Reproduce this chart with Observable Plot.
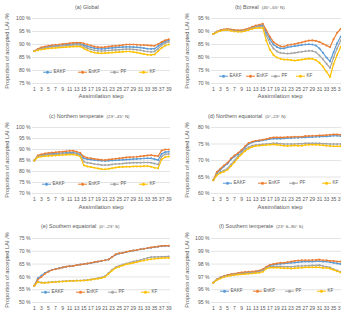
<!DOCTYPE html>
<html><head><meta charset="utf-8">
<script src="https://cdn.jsdelivr.net/npm/d3@7"></script>
<script src="https://cdn.jsdelivr.net/npm/@observablehq/plot@0.6"></script>
<style>
html,body{margin:0;padding:0;background:#fff;overflow:hidden}
#fig{position:relative;width:341px;height:310px;overflow:hidden;font-family:"Liberation Sans",Arial,sans-serif;color:#595959;background:#fff}
.abs{position:absolute;white-space:nowrap;line-height:1}
.title{font-size:5.4px;transform:translateY(-50%)}
.title .sub{font-size:4.4px;margin-left:3px}
.xlab{font-size:6px;transform:translate(-50%,-50%)}
.ylab{font-size:5.7px;transform:translate(-50%,-50%) rotate(-90deg)}
.li{font-size:4.6px;display:flex;align-items:center;transform:translateY(-50%)}
.sw{position:relative;display:inline-block;width:9px;height:1.1px;margin-right:1.5px}
.sw i{position:absolute;left:3px;top:-1.2px;width:3.4px;height:3.4px;border-radius:50%}
svg{position:absolute}
</style></head>
<body><div id="fig"></div>
<script>
const steps = [1,2,3,4,5,6,7,8,9,10,11,12,13,14,15,16,17,18,19,20,21,22,23,24,25,26,27,28,29,30,31,32,33,34,35,36,37,38,39];
const stepTicks = [1,3,5,7,9,11,13,15,17,19,21,23,25,27,29,31,33,35,37,39];
const seriesNames = ["EAKF","EnKF","PF","KF"];
const seriesColors = ["#5B9BD5","#ED7D31","#A5A5A5","#FFC000"];

// (a) Global
const aEAKF = [87.5,88.1,88.6,88.9,89.2,89.4,89.6,89.7,89.9,90.0,90.1,90.2,90.3,90.2,89.8,89.3,88.9,88.6,88.4,88.3,88.4,88.6,88.7,88.8,88.9,89.0,89.1,89.1,89.0,88.9,88.8,88.6,88.4,88.3,88.4,89.3,90.4,91.2,91.6];
const aEnKF = [87.5,88.3,88.9,89.2,89.5,89.7,89.9,90.0,90.2,90.3,90.5,90.6,90.7,90.7,90.4,90.0,89.6,89.2,89.0,88.9,89.0,89.2,89.4,89.5,89.6,89.8,90.0,90.0,90.0,89.9,89.8,89.8,89.7,89.6,89.5,90.2,91.0,91.6,92.0];
const aPF   = [87.5,88.0,88.4,88.7,88.9,89.1,89.3,89.4,89.5,89.6,89.7,89.8,89.9,89.8,89.2,88.6,88.1,87.8,87.6,87.5,87.6,87.7,87.8,87.9,88.0,88.1,88.2,88.2,88.1,88.0,87.8,87.5,87.3,87.2,87.3,88.4,89.7,90.6,91.0];
const aKF   = [87.4,87.8,88.1,88.3,88.5,88.6,88.7,88.8,88.9,89.0,89.1,89.2,89.3,89.2,88.5,87.8,87.2,86.9,86.7,86.6,86.7,86.8,86.9,87.0,87.1,87.2,87.3,87.3,87.1,86.9,86.6,86.3,86.1,86.0,86.2,87.4,88.7,89.6,90.0];
const aTicks = [75,80,85,90,95,100];

// (b) Boreal
const bEAKF = [89,89.9,90.4,90.7,90.8,90.6,90.4,90.3,90.3,90.6,91,91.5,92,92.2,92.4,89.5,87,85,84,83.5,83.5,83.9,84.2,84.4,84.6,84.8,85.0,85.1,85.0,84.6,83.5,81.8,80.0,78.5,82,85.5,88,89.5,90];
const bEnKF = [89,90,90.5,90.8,91,90.8,90.6,90.5,90.5,90.8,91.2,91.8,92.3,92.6,93,90.5,88,86,85,84.3,84.2,84.7,85,85.2,85.5,85.8,86.2,86.5,86.6,86.4,86,85.3,84.6,84.0,87,89.5,91,92,92.5];
const bPF   = [89,89.8,90.3,90.6,90.7,90.5,90.2,90.1,90.1,90.4,90.8,91.3,91.7,91.9,92,88.5,85.5,83.5,82.3,81.8,81.6,81.5,81.6,81.8,82,82.2,82.4,82.6,82.5,82,80.8,79.3,77.6,76,80,83.5,86.5,88,89];
const bKF   = [89,89.7,90.2,90.5,90.6,90.3,90,89.9,89.9,90.2,90.6,91,91.3,91.4,91.3,86.5,83,81,80,79.5,79.2,79.2,79.0,78.8,79,79.2,79.4,79.6,79.5,79,78,76.5,74.5,72.5,77.5,81,84,86,87];
const bTicks = [70,75,80,85,90,95];

// (c) Northern temperate
const cEAKF = [85,87.0,87.5,87.8,88.0,88.1,88.2,88.3,88.4,88.5,88.6,88.6,88.3,87.8,86.0,85.6,85.4,85.2,85.0,84.9,84.8,84.9,85.0,85.1,85.2,85.3,85.4,85.5,85.6,85.7,85.8,85.9,86.0,86.0,85.6,85.2,88.0,88.8,89.0];
const cEnKF = [85,87.3,87.8,88.2,88.4,88.6,88.7,88.9,89.0,89.2,89.4,89.4,89.0,88.5,86.8,86.2,86.0,85.7,85.5,85.3,85.2,85.4,85.6,85.8,86.0,86.2,86.4,86.5,86.6,86.7,86.9,87.1,87.3,87.4,87.2,87.0,89.5,90.0,90.0];
const cPF   = [85,86.8,87.2,87.4,87.6,87.7,87.8,87.9,88.0,88.1,88.2,88.2,87.9,87.3,84.5,84.0,83.7,83.4,83.2,83.0,82.9,83.0,83.2,83.4,83.5,83.6,83.8,83.9,84.0,84.0,84.0,84.1,84.1,84.0,83.6,83.2,86.8,87.8,88.0];
const cKF   = [85,86.5,86.8,87.0,87.1,87.2,87.3,87.4,87.5,87.6,87.7,87.7,87.4,86.8,82.8,82.3,82.0,81.7,81.4,81.1,81.0,81.2,81.5,81.8,82.0,82.1,82.2,82.2,82.3,82.3,82.3,82.4,82.4,82.2,81.7,81.5,85.5,86.6,86.8];
const cTicks = [70,75,80,85,90,95,100];

// (d) Northern equatorial
const dEAKF = [64.0,66.3,67.2,68.2,69.0,70.3,71.2,72.0,72.9,74.0,75.0,75.5,75.8,75.9,76.1,76.3,76.5,76.6,76.6,76.6,76.7,76.8,76.8,76.9,76.9,77.0,77.0,77.1,77.1,77.2,77.2,77.3,77.3,77.4,77.5,77.5,77.4,77.4,77.4];
const dEnKF = [64.0,66.5,67.5,68.5,69.3,70.6,71.5,72.3,73.2,74.3,75.3,75.7,76.0,76.1,76.3,76.5,76.8,77.0,77.0,77.0,77.0,77.1,77.1,77.2,77.2,77.2,77.4,77.4,77.5,77.5,77.6,77.6,77.7,77.8,77.9,77.9,77.8,77.8,77.8];
const dPF   = [64.0,65.8,66.5,67.0,67.6,68.8,70.0,71.3,72.4,73.4,74.0,74.5,74.7,74.8,74.9,75.0,75.1,75.2,75.2,75.1,75.0,75.0,75.0,75.0,75.1,75.1,75.2,75.2,75.2,75.2,75.2,75.1,75.1,75.0,75.0,75.0,75.0,75.0,75.0];
const dKF   = [64.0,65.5,66.2,66.6,67.2,68.3,69.5,70.8,71.9,72.9,73.6,74.1,74.4,74.5,74.6,74.7,74.8,74.9,74.8,74.6,74.5,74.4,74.5,74.6,74.5,74.5,74.7,74.8,74.8,74.8,74.7,74.6,74.5,74.4,74.3,74.3,74.3,74.3,74.3];
const dTicks = [60,65,70,75,80];

// (e) Southern equatorial
const eEAKF = [56.5,59.5,60.5,61.5,62.2,62.8,63.1,63.4,63.7,64.0,64.2,64.3,64.6,64.8,65.0,65.2,65.4,65.7,66.0,66.2,66.5,66.8,67.8,68.7,69.1,69.4,69.7,70.0,70.3,70.5,70.8,71.0,71.2,71.4,71.6,71.8,72.0,72.1,72.1];
const eEnKF = [56.5,59.0,60.0,61.2,62.0,62.7,63.0,63.3,63.7,64.0,64.2,64.3,64.6,64.8,65.0,65.2,65.5,65.8,66.0,66.3,66.5,66.8,67.8,68.8,69.2,69.4,69.8,70.1,70.3,70.5,70.8,71.0,71.3,71.5,71.7,71.9,72.1,72.2,72.2];
const ePF   = [56.5,58.2,57.8,57.8,57.9,58.0,58.1,58.2,58.3,58.4,58.5,58.5,58.6,58.6,58.7,58.8,59.0,59.2,59.5,59.8,60.3,61.5,62.8,63.8,64.3,64.8,65.2,65.6,66.0,66.3,66.6,67.0,67.4,67.7,67.8,67.8,67.9,67.9,68.0];
const eKF   = [56.5,58.0,57.7,57.7,57.8,57.9,58.0,58.1,58.2,58.3,58.4,58.4,58.5,58.5,58.6,58.7,58.9,59.1,59.3,59.6,60.0,61.2,62.5,63.5,64.0,64.5,64.9,65.2,65.5,65.8,66.1,66.4,66.7,66.9,67.1,67.2,67.3,67.4,67.4];
const eTicks = [50,55,60,65,70,75];

// (f) Southern temperate
const fEAKF = [96.55,96.8,96.95,97.05,97.12,97.18,97.22,97.27,97.3,97.33,97.35,97.37,97.4,97.45,97.55,97.75,97.9,97.95,98.0,98.02,98.05,98.08,98.1,98.12,98.15,98.18,98.2,98.2,98.2,98.22,98.22,98.2,98.2,98.15,98.1,98.05,98.0,98.0,98.0];
const fEnKF = [96.55,96.8,96.95,97.05,97.15,97.2,97.25,97.3,97.35,97.38,97.4,97.42,97.45,97.5,97.6,97.8,97.95,98.0,98.05,98.1,98.1,98.15,98.2,98.25,98.28,98.3,98.3,98.3,98.32,98.33,98.35,98.3,98.3,98.25,98.25,98.2,98.2,98.2,98.2];
const fPF   = [96.55,96.78,96.92,97.0,97.08,97.13,97.18,97.22,97.25,97.28,97.3,97.32,97.35,97.4,97.5,97.7,97.8,97.82,97.82,97.82,97.8,97.8,97.8,97.82,97.85,97.85,97.87,97.88,97.9,97.9,97.92,97.85,97.8,97.75,97.6,97.5,97.4,97.4,97.4];
const fKF   = [96.55,96.75,96.88,96.97,97.05,97.1,97.15,97.18,97.2,97.22,97.25,97.27,97.3,97.33,97.4,97.65,97.72,97.72,97.72,97.7,97.68,97.68,97.65,97.68,97.7,97.72,97.75,97.75,97.75,97.75,97.75,97.7,97.7,97.65,97.55,97.45,97.35,97.3,97.3];
const fTicks = [95,96,97,98,99,100];

const panelTitles = ["(a) Global","(b) Boreal","(c) Northern temperate","(d) Northern equatorial","(e) Southern equatorial","(f) Southern temperate"];
const panelSubs = ["","(45°–65° N)","(23°–45° N)","(0°–23° N)","(0°–23° S)","(23° S–90° S)"];
const yTitle = "Proportion of accepted LAI /%";
const xTitle = "Assimilation step";

const panels = [
  {series:[aEAKF,aEnKF,aPF,aKF], ticks:aTicks, col:0, row:0, titleX:75, legX:[43,78,110,139], legY:72},
  {series:[bEAKF,bEnKF,bPF,bKF], ticks:bTicks, col:1, row:0, titleX:235, legX:[219,246,271,296], legY:76},
  {series:[cEAKF,cEnKF,cPF,cKF], ticks:cTicks, col:0, row:1, titleX:49, legX:[42,78,110,139], legY:184},
  {series:[dEAKF,dEnKF,dPF,dKF], ticks:dTicks, col:1, row:1, titleX:208, legX:[223,258,289,322], legY:183},
  {series:[eEAKF,eEnKF,ePF,eKF], ticks:eTicks, col:0, row:2, titleX:41, legX:[41,76,108,141], legY:292},
  {series:[fEAKF,fEnKF,fPF,fKF], ticks:fTicks, col:1, row:2, titleX:219, legX:[220,253,285,317], legY:291}
];
const rows = [{plotT:18, plotB:83, titleY:8, xTitleY:96},{plotT:127, plotB:193, titleY:117, xTitleY:207},{plotT:238, plotB:302, titleY:227, xTitleY:318}];
const cols = [{left:0, plotL:32, plotR:170, yLabX:8},{left:170, plotL:211, plotR:349, yLabX:188}];

const fig = document.getElementById("fig");
function addDiv(cls, x, y, html) {
  const d = document.createElement("div");
  d.className = "abs " + cls;
  d.style.left = x + "px"; d.style.top = y + "px";
  d.innerHTML = html;
  fig.appendChild(d);
  return d;
}

panels.forEach((p, i) => {
  const r = rows[p.row], c = cols[p.col];
  const mt = 10, mb = 24;
  const data = [];
  p.series.forEach((vals, k) => vals.forEach((v, j) => data.push({step: steps[j], v, name: seriesNames[k]})));
  const chart = Plot.plot({
    width: c.plotR - c.left + 1,
    height: r.plotB - r.plotT + mt + mb,
    marginLeft: c.plotL - c.left,
    marginRight: 1,
    marginTop: mt,
    marginBottom: mb,
    style: {background: "transparent", fontFamily: "Liberation Sans, Arial, sans-serif", color: "#595959", overflow: "visible"},
    x: {type: "linear", domain: [0.5, 39.5]},
    y: {domain: [p.ticks[0], p.ticks[p.ticks.length - 1]]},
    color: {domain: seriesNames, range: seriesColors},
    marks: [
      Plot.gridY(p.ticks, {stroke: "#d9d9d9", strokeOpacity: 1, strokeWidth: 0.7}),
      Plot.axisY(p.ticks, {tickSize: 0, tickPadding: 2, fontSize: 5.1, fill: "#595959", tickFormat: d => d + " %", label: null}),
      Plot.axisX(stepTicks, {tickSize: 0, tickPadding: 4, fontSize: 5, fill: "#595959", label: null}),
      Plot.line(data, {x: "step", y: "v", z: "name", stroke: "name", strokeWidth: 1.2}),
      Plot.dot(data, {x: "step", y: "v", fill: "name", r: 1.0})
    ]
  });
  chart.style.left = c.left + "px";
  chart.style.top = (r.plotT - mt) + "px";
  fig.appendChild(chart);
  addDiv("title", p.titleX, r.titleY, panelTitles[i] + (panelSubs[i] ? '<span class="sub">' + panelSubs[i] + '</span>' : ""));
  addDiv("xlab", (c.plotL + c.plotR) / 2, r.xTitleY, xTitle);
  addDiv("ylab", c.yLabX, (r.plotT + r.plotB) / 2, yTitle);
  seriesNames.forEach((n, k) => {
    addDiv("li", p.legX[k], p.legY, '<span class="sw" style="background:' + seriesColors[k] + '"><i style="background:' + seriesColors[k] + '"></i></span>' + n);
  });
});
</script></body></html>
